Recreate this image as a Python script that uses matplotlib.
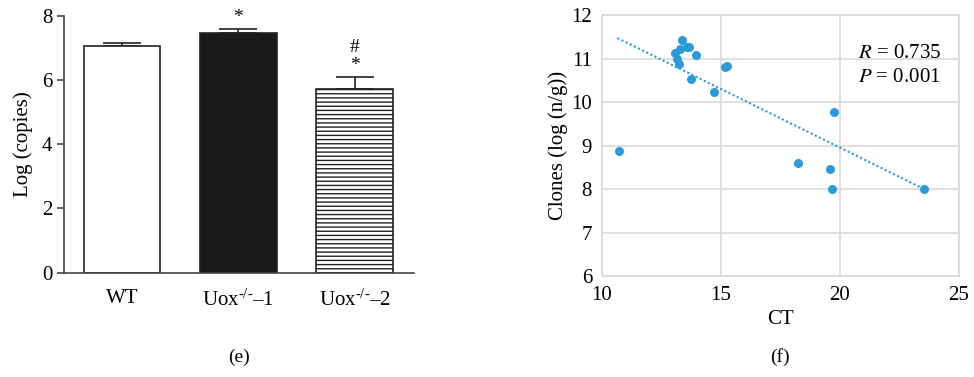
import matplotlib
matplotlib.use("Agg")
import matplotlib.pyplot as plt
import numpy as np

plt.rcParams.update({
    "font.family": "serif",
    "font.serif": ["Liberation Serif", "DejaVu Serif"],
    "mathtext.fontset": "stix",
    "mathtext.default": "regular",
    "font.size": 15,
    "hatch.linewidth": 1.0,
})

# panel (e) data
groups = ["WT", "Uox$^{\u2010/\u2010}$\u20131", "Uox$^{\u2010/\u2010}$\u20132"]
means = [7.07, 7.48, 5.73]
sems = [0.10, 0.11, 0.37]
marks = ["", "*", "#\n*"]

# panel (f) data
ct = [10.71, 13.36, 13.08, 13.15, 13.26, 13.29, 13.57, 13.68, 13.95, 13.74,
      14.73, 15.18, 15.27, 19.77, 18.23, 19.58, 19.65, 23.53]
clones = [8.88, 11.43, 11.13, 11.00, 10.87, 11.21, 11.26, 11.27, 11.07, 10.54,
          10.22, 10.81, 10.83, 9.78, 8.59, 8.45, 7.99, 7.99]
trend_x = [10.66, 23.53]
trend_y = [11.47, 8.00]

fig = plt.figure(figsize=(9.74, 3.77), dpi=100)

# ---- (e) bar chart
ax1 = fig.add_axes([0.0657, 0.2767, 0.3593, 0.681])
x = np.arange(len(groups))
fills = ["white", "#1a1a1a", "white"]
hatches = [None, None, "----"]
for i in range(len(groups)):
    ax1.bar(x[i], means[i], width=0.66, color=fills[i], edgecolor="#222222",
            linewidth=1.2, hatch=hatches[i], zorder=2)
ax1.errorbar(x, means, yerr=[np.zeros(3), sems], fmt="none", ecolor="#222222",
             elinewidth=1.2, capsize=14, capthick=1.2, zorder=1)
for i in range(len(groups)):
    if marks[i]:
        ax1.annotate(marks[i], (x[i], means[i] + sems[i]), xytext=(0, 2),
                     textcoords="offset points", ha="center", va="bottom",
                     fontsize=14, linespacing=1.05)
ax1.set_xlim(-0.5, 2.51)
ax1.set_ylim(0, 8)
ax1.set_yticks([0, 2, 4, 6, 8])
ax1.set_xticks(x)
ax1.set_xticklabels(groups)
ax1.tick_params(axis="x", length=0, pad=12)
ax1.set_xticks([1], minor=True)
ax1.tick_params(axis="x", which="minor", length=6, width=1.2, color="#444444")
ax1.tick_params(axis="y", length=5, width=1.2, color="#444444")
for s in ["top", "right"]:
    ax1.spines[s].set_visible(False)
for s in ["left", "bottom"]:
    ax1.spines[s].set_color("#444444")
    ax1.spines[s].set_linewidth(1.2)
ax1.set_ylabel("Log (copies)", labelpad=6)

# ---- (f) scatter
ax2 = fig.add_axes([0.6178, 0.2679, 0.3668, 0.6923])
ax2.scatter(ct, clones, s=42, color="#2b9ad8", zorder=3, linewidths=0)
ax2.plot(trend_x, trend_y, ls=(0, (1, 1.2)), color="#2b9ad8", lw=1.5, zorder=2)
ax2.set_xlim(10, 25)
ax2.set_ylim(6, 12)
ax2.set_xticks([10, 15, 20, 25])
ax2.set_yticks([6, 7, 8, 9, 10, 11, 12])
ax2.grid(True, color="#d9d9d9", lw=1.2, zorder=0)
ax2.set_axisbelow(True)
for s in ax2.spines.values():
    s.set_color("#d9d9d9")
    s.set_linewidth(1.2)
ax2.tick_params(axis="x", length=0, pad=7)
ax2.tick_params(axis="y", length=0, pad=7)
ax2.set_xlabel("CT", labelpad=4)
ax2.set_ylabel("Clones (log (n/g))", labelpad=2)
ax2.text(0.717, 0.854, "$\\it{R}$ = 0.735", transform=ax2.transAxes,
         va="center", ha="left", fontsize=15)
ax2.text(0.717, 0.759, "$\\it{P}$ = 0.001", transform=ax2.transAxes,
         va="center", ha="left", fontsize=15)

fig.text(239 / 974, 1 - 357 / 377, "(e)", ha="center", va="center", fontsize=14)
fig.text(780 / 974, 1 - 357 / 377, "(f)", ha="center", va="center", fontsize=14)

fig.savefig("out.png", dpi=100)
